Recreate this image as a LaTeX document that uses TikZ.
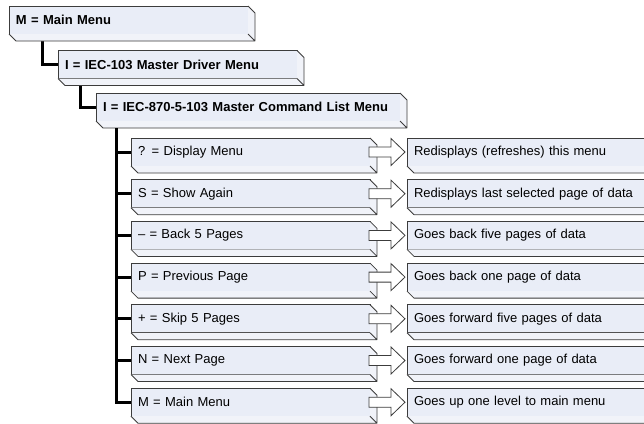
\documentclass[tikz,border=0pt]{standalone}
\usepackage{fontspec}
\setmainfont{Liberation Sans}
\usetikzlibrary{calc}
\definecolor{facefill}{HTML}{E9EDF7}
\definecolor{sidefill}{HTML}{F1F3F9}
\definecolor{edgecol}{HTML}{3C3C3C}
\tikzset{
  menubox/.style={draw=edgecol, line width=0.8pt, fill=facefill, rectangle,
    anchor=north west, minimum height=28pt, inner ysep=0pt, inner xsep=7pt,
    outer sep=0pt, align=left, font=\fontsize{13}{15}\selectfont},
  boldbox/.style={menubox, font=\fontsize{13}{15}\selectfont\bfseries},
  conn/.style={line width=3pt, black},
  blockarrow/.style={draw=edgecol, line width=0.8pt, fill=white, line join=miter},
  depthline/.style={draw=edgecol, line width=0.8pt, line join=round},
}
\newcommand{\boxdepth}[1]{%
  \fill[sidefill] (#1.south west) -- ++(7,7) -| ($(#1.north east)+(7,7)$) -- (#1.north east) -- (#1.south east) -- cycle;
  \draw[depthline] (#1.south west) -- ++(7,7) -| ($(#1.north east)+(7,7)$) -- (#1.north east) (#1.south east) -- ++(7,7);}
\newcommand{\barrow}[2]{%
  \draw[blockarrow] ($(#1.east)+(-1,-5)$) -- ($(#2.west)+(-16,-5)$) -- ($(#2.west)+(-16,-13.5)$)
    -- ($(#2.west)+(-2,0)$) -- ($(#2.west)+(-16,13.5)$) -- ($(#2.west)+(-16,5)$)
    -- ($(#1.east)+(-1,5)$) -- cycle;}
\begin{document}
\begin{tikzpicture}[x=1pt,y=-1pt]
\useasboundingbox (0,0) rectangle (644,423);
\clip (0,0) rectangle (644,423);
% header boxes
\node[boldbox, text width=225pt] (b1) at (9,6) {M = Main Menu};
\node[boldbox, text width=225pt] (b2) at (58,50.5) {I = IEC-103 Master Driver Menu};
\node[boldbox, text width=290pt] (b3) at (96,93) {I = IEC-870-5-103 Master Command List Menu};
% connectors between header boxes
\draw[conn] ($(b1.south west)+(33,7)$) |- (b2.west);
\draw[conn] ($(b2.south west)+(22,7)$) |- (b3.west);
\boxdepth{b1}
\boxdepth{b2}
\boxdepth{b3}
% item rows
\foreach \k/\itxt/\dtxt in {
  0/{? = Display Menu}/{Redisplays (refreshes) this menu},
  1/{S = Show Again}/{Redisplays last selected page of data},
  2/{– = Back 5 Pages}/{Goes back five pages of data},
  3/{P = Previous Page}/{Goes back one page of data},
  4/{+ = Skip 5 Pages}/{Goes forward five pages of data},
  5/{N = Next Page}/{Goes forward one page of data},
  6/{M = Main Menu}/{Goes up one level to main menu}} {
  \pgfmathsetmacro{\yy}{138+41.7*\k}
  \node[menubox, text width=225pt] (i\k) at (131,\yy) {\itxt};
  \node[menubox, text width=240pt] (d\k) at (407,\yy) {\dtxt};
}
\coordinate (spine) at ($(b3.south west)+(20,7)$);
\draw[conn] (spine) |- (i6.west);
\foreach \k in {0,...,5} {
  \draw[conn] (spine |- i\k.west) -- (i\k.west);
}
\foreach \k in {0,...,6} {
  \boxdepth{i\k}
  \boxdepth{d\k}
  \barrow{i\k}{d\k}
}
\end{tikzpicture}
\end{document}
